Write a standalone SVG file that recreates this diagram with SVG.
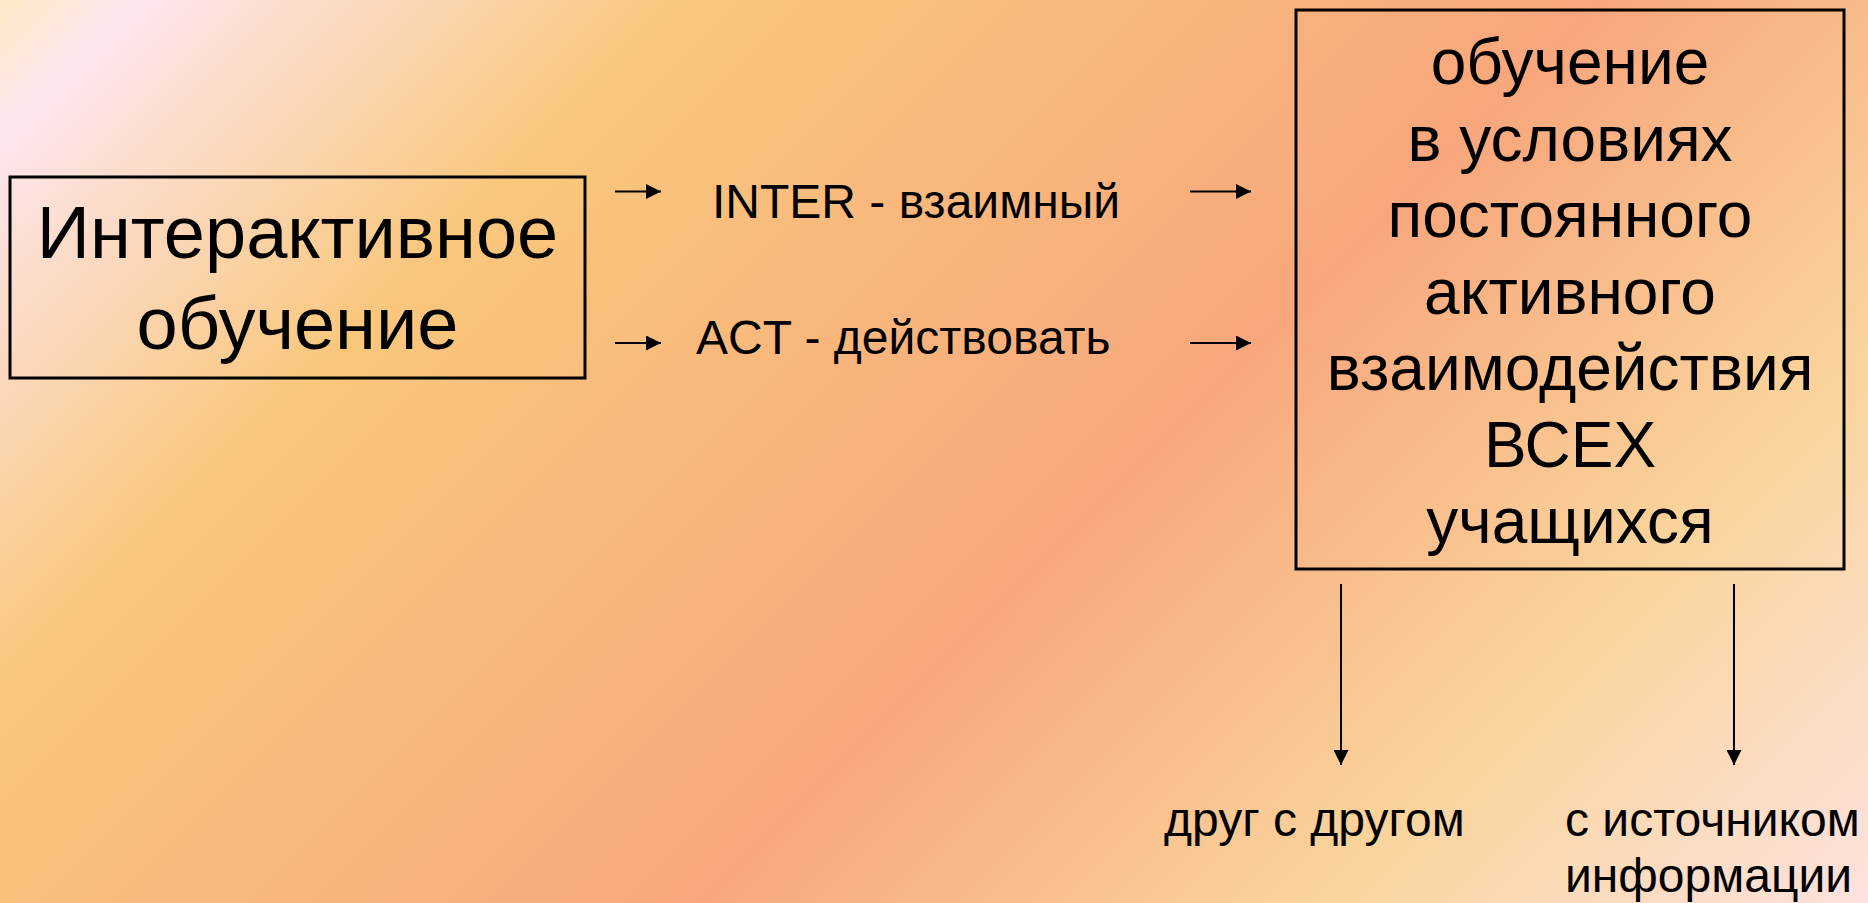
<svg xmlns="http://www.w3.org/2000/svg" width="1868" height="903" viewBox="0 0 1868 903">
  <defs>
    <linearGradient id="bg" gradientUnits="userSpaceOnUse" x1="0" y1="0" x2="1385" y2="1385">
      <stop offset="0" stop-color="#fde9c6"/>
      <stop offset="0.05" stop-color="#fde6ee"/>
      <stop offset="0.25" stop-color="#f9c77c"/>
      <stop offset="0.58" stop-color="#f8a77c"/>
      <stop offset="0.80" stop-color="#fad49c"/>
      <stop offset="1" stop-color="#fde2de"/>
    </linearGradient>
    <marker id="ah" viewBox="0 0 16 16" refX="16" refY="8" markerWidth="15" markerHeight="15" markerUnits="userSpaceOnUse" orient="auto">
      <path d="M0,0 L16,8 L0,16 Z" fill="#000"/>
    </marker>
    <style>
      .box { fill: none; stroke: #000; stroke-width: 3; }
      .t { font-family: "Liberation Sans", Arial, sans-serif; fill: #000; }
      .big { font-size: 74px; text-anchor: middle; }
      .mid { font-size: 64px; text-anchor: middle; }
      .sm { font-size: 48px; }
      .conn { stroke: #000; stroke-width: 2; fill: none; marker-end: url(#ah); }
    </style>
  </defs>
  <rect x="0" y="0" width="1868" height="903" fill="url(#bg)"/>

  <g id="node-interactive">
    <rect class="box" x="10" y="177" width="575" height="201"/>
    <text class="t big" x="297.5" y="258">Интерактивное</text>
    <text class="t big" x="297.5" y="349">обучение</text>
  </g>

  <g id="label-inter">
    <text class="t sm" x="712" y="218">INTER - взаимный</text>
  </g>
  <g id="label-act">
    <text class="t sm" x="696" y="354">ACT - действовать</text>
  </g>

  <g id="node-definition">
    <rect class="box" x="1296" y="10" width="548" height="559"/>
    <text class="t mid" x="1570" y="84">обучение</text>
    <text class="t mid" x="1570" y="160.5">в условиях</text>
    <text class="t mid" x="1570" y="237">постоянного</text>
    <text class="t mid" x="1570" y="313.5">активного</text>
    <text class="t mid" x="1570" y="390">взаимодействия</text>
    <text class="t mid" x="1570" y="466.5">ВСЕХ</text>
    <text class="t mid" x="1570" y="543">учащихся</text>
  </g>

  <g id="label-each-other">
    <text class="t sm" x="1164" y="836">друг с другом</text>
  </g>
  <g id="label-source">
    <text class="t sm" x="1565" y="836">с источником</text>
    <text class="t sm" x="1565" y="892">информации</text>
  </g>

  <g id="connectors">
    <line class="conn" x1="615" y1="191.5" x2="661" y2="191.5"/>
    <line class="conn" x1="1190" y1="191.5" x2="1251" y2="191.5"/>
    <line class="conn" x1="615" y1="343" x2="661" y2="343"/>
    <line class="conn" x1="1190" y1="343" x2="1251" y2="343"/>
    <line class="conn" x1="1341" y1="584" x2="1341" y2="765"/>
    <line class="conn" x1="1734" y1="584" x2="1734" y2="765"/>
  </g>
</svg>
